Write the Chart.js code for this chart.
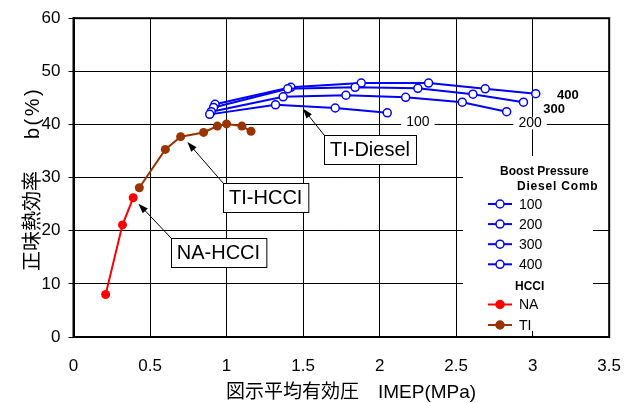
<!DOCTYPE html>
<html>
<head>
<meta charset="utf-8">
<script src="https://cdn.jsdelivr.net/npm/chart.js"></script>
<style>
  body { margin: 0; background: #fff; }
</style>
</head>
<body>
<canvas id="myChart" width="640" height="403"></canvas>
<script>
// IMEP (MPa) vs net thermal efficiency (%)
const naX = [0.21, 0.32, 0.39];
const naY = [8.0, 21.1, 26.2];

const tiX = [0.43, 0.60, 0.70, 0.85, 0.94, 1.00, 1.10, 1.16];
const tiY = [28.1, 35.3, 37.7, 38.5, 39.7, 40.1, 39.7, 38.7];

const d100X = [0.89, 1.32, 1.71, 2.05];
const d100Y = [41.9, 43.7, 43.1, 42.2];
const d200X = [0.90, 1.37, 1.78, 2.17, 2.54, 2.83];
const d200Y = [42.4, 45.2, 45.5, 45.1, 44.2, 42.4];
const d300X = [0.915, 1.40, 1.84, 2.25, 2.61, 2.94];
const d300Y = [43.2, 46.7, 47.0, 46.8, 45.7, 44.2];
const d400X = [0.925, 1.42, 1.88, 2.32, 2.69, 3.02];
const d400Y = [43.8, 47.0, 47.8, 47.8, 46.7, 45.8];

const dieselLabels = ['100', '200', '300', '400'];
const hcciLabels = ['NA', 'TI'];

const xTickLabels = ['0', '0.5', '1', '1.5', '2', '2.5', '3', '3.5'];
const yTickLabels = ['0', '10', '20', '30', '40', '50', '60'];

const xTitle = '図示平均有効圧　IMEP(MPa)';
const yTitleJa = '正味熱効率';
const yTitleUnit = 'b(%)';

const FONT = '"Liberation Sans", Arial, "Noto Sans CJK JP", sans-serif';
const BLUE = '#0000ff';
const RED = '#ff0000';
const BROWN = '#993300';

function pts(xs, ys) {
  return xs.map((v, i) => ({ x: v, y: ys[i] }));
}

function diesel(label, xs, ys) {
  return {
    label: label,
    data: pts(xs, ys),
    showLine: true,
    borderColor: BLUE,
    borderWidth: 2,
    pointRadius: 4,
    pointBorderWidth: 1.5,
    pointBackgroundColor: '#fff',
    pointBorderColor: BLUE
  };
}

function hcci(label, xs, ys, color) {
  return {
    label: label,
    data: pts(xs, ys),
    showLine: true,
    borderColor: color,
    borderWidth: 2,
    pointRadius: 4.5,
    pointBorderWidth: 0,
    pointBackgroundColor: color,
    pointBorderColor: color
  };
}

// boxed annotations with arrows (box centre + arrow tip, in data units)
const notes = [
  { text: 'TI-Diesel', x: 1.937, y: 35.2, tipX: 1.499, tipY: 43.0 },
  { text: 'TI-HCCI', x: 1.256, y: 26.3, tipX: 0.744, tipY: 36.7 },
  { text: 'NA-HCCI', x: 0.947, y: 15.9, tipX: 0.424, tipY: 25.1 }
];

// labels at line ends
const lineTags = [
  { text: '100', x: 2.25, y: 40.5, bold: false },
  { text: '200', x: 2.983, y: 40.2, bold: false },
  { text: '300', x: 3.14, y: 42.9, bold: true },
  { text: '400', x: 3.23, y: 45.4, bold: true }
];

function arrow(ctx, x1, y1, x2, y2) {
  const ang = Math.atan2(y2 - y1, x2 - x1);
  const len = 10, wid = 3.5;
  ctx.beginPath();
  ctx.moveTo(x1, y1);
  ctx.lineTo(x2 - Math.cos(ang) * len * 0.8, y2 - Math.sin(ang) * len * 0.8);
  ctx.stroke();
  ctx.beginPath();
  ctx.moveTo(x2, y2);
  ctx.lineTo(x2 - Math.cos(ang) * len - Math.sin(ang) * wid, y2 - Math.sin(ang) * len + Math.cos(ang) * wid);
  ctx.lineTo(x2 - Math.cos(ang) * len + Math.sin(ang) * wid, y2 - Math.sin(ang) * len - Math.cos(ang) * wid);
  ctx.closePath();
  ctx.fill();
}

const overlay = {
  id: 'overlay',
  afterDraw(chart) {
    const ctx = chart.ctx;
    const a = chart.chartArea;
    const sx = chart.scales.x, sy = chart.scales.y;
    ctx.save();

    // line end tags
    ctx.textBaseline = 'middle';
    ctx.textAlign = 'center';
    lineTags.forEach(t => {
      const px = sx.getPixelForValue(t.x), py = sy.getPixelForValue(t.y);
      ctx.font = (t.bold ? 'bold 13px ' : '14px ') + FONT;
      if (!t.bold) {
        const w = ctx.measureText(t.text).width;
        ctx.fillStyle = '#fff';
        ctx.fillRect(px - w / 2 - 5, py - 6, w + 10, 12);
      }
      ctx.fillStyle = '#000';
      ctx.fillText(t.text, px, py);
    });

    // annotation boxes
    ctx.font = '20px ' + FONT;
    ctx.lineWidth = 1;
    ctx.strokeStyle = '#000';
    notes.forEach(n => {
      const cx = sx.getPixelForValue(n.x), cy = sy.getPixelForValue(n.y);
      const w = ctx.measureText(n.text).width + 12, h = 29;
      const l = Math.round(cx - w / 2) + 0.5, t = Math.round(cy - h / 2) + 0.5;
      ctx.fillStyle = '#fff';
      ctx.fillRect(l, t, w, h);
      ctx.strokeRect(l, t, w, h);
      ctx.fillStyle = '#000';
      ctx.textAlign = 'center';
      ctx.fillText(n.text, cx, cy + 1);
      arrow(ctx, l, t, sx.getPixelForValue(n.tipX), sy.getPixelForValue(n.tipY));
    });

    // legend
    ctx.fillStyle = '#fff';
    ctx.fillRect(463, 156, 148, 40);
    ctx.fillRect(463, 196, 130, 135);
    ctx.fillStyle = '#000';
    ctx.textAlign = 'left';
    ctx.font = 'bold 12px ' + FONT;
    ctx.fillText('Boost Pressure', 500, 172);
    ctx.letterSpacing = '0.8px';
    ctx.fillText('Diesel Comb', 517, 187);
    ctx.letterSpacing = '0px';
    ctx.fillText('HCCI', 515, 287);
    const items = dieselLabels.map((l, i) => ({ label: l, y: 204 + i * 20.1, fill: '#fff', color: BLUE }))
      .concat(hcciLabels.map((l, i) => ({ label: l, y: 304.5 + i * 20.5, fill: [RED, BROWN][i], color: [RED, BROWN][i] })));
    items.forEach(it => {
      ctx.strokeStyle = it.color;
      ctx.lineWidth = 2;
      ctx.beginPath();
      ctx.moveTo(488, it.y);
      ctx.lineTo(512, it.y);
      ctx.stroke();
      ctx.beginPath();
      ctx.arc(500, it.y, 4, 0, Math.PI * 2);
      ctx.fillStyle = it.fill;
      ctx.fill();
      ctx.lineWidth = 1.5;
      ctx.stroke();
      ctx.fillStyle = '#000';
      ctx.font = '14px ' + FONT;
      ctx.fillText(it.label, 519, it.y + 1);
    });

    // axis titles
    ctx.font = '19px ' + FONT;
    ctx.fillText(xTitle, 226, 393);
    ctx.translate(33, 0);
    ctx.rotate(-Math.PI / 2);
    ctx.font = '20px ' + FONT;
    ctx.fillText(yTitleJa, -271, 0);
    ctx.letterSpacing = '2.5px';
    ctx.fillText(yTitleUnit, -139, 0);
    ctx.letterSpacing = '0px';
    ctx.restore();

    // frame
    ctx.save();
    ctx.strokeStyle = '#000';
    ctx.lineWidth = 2;
    ctx.strokeRect(a.left, a.top, a.right - a.left, a.bottom - a.top);
    ctx.restore();
  }
};

const ctx = document.getElementById('myChart').getContext('2d');
new Chart(ctx, {
  type: 'scatter',
  data: {
    datasets: [
      diesel(dieselLabels[0], d100X, d100Y),
      diesel(dieselLabels[1], d200X, d200Y),
      diesel(dieselLabels[2], d300X, d300Y),
      diesel(dieselLabels[3], d400X, d400Y),
      hcci(hcciLabels[0], naX, naY, RED),
      hcci(hcciLabels[1], tiX, tiY, BROWN)
    ]
  },
  options: {
    responsive: false,
    animation: false,
    layout: { padding: { top: 16, right: 27, left: 0, bottom: 0 } },
    plugins: { legend: { display: false }, tooltip: { enabled: false } },
    scales: {
      x: {
        min: 0, max: 3.5,
        afterFit: s => { s.height = 66; },
        grid: { color: '#000', lineWidth: 1, drawTicks: false },
        border: { color: '#000', width: 2 },
        ticks: {
          stepSize: 0.5, padding: 19, color: '#000',
          font: { family: FONT, size: 17 },
          maxRotation: 0,
          callback: (v, i) => xTickLabels[i]
        }
      },
      y: {
        min: 0, max: 60,
        afterFit: s => { s.width = 73.5; },
        grid: { color: '#000', lineWidth: 1, tickLength: 5 },
        border: { color: '#000', width: 2 },
        ticks: {
          stepSize: 10, padding: 8, color: '#000',
          font: { family: FONT, size: 17 },
          callback: (v, i) => yTickLabels[i]
        }
      }
    }
  },
  plugins: [overlay]
});
</script>
</body>
</html>
